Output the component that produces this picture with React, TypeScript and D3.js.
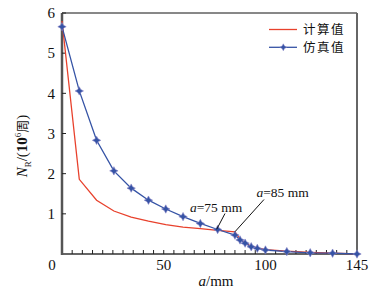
import React from "react";
import * as d3 from "d3";

const aValues = [0, 8.5, 17, 25.5, 34, 42.5, 51, 59.5, 68, 76.5, 85, 87.5, 90, 93, 96, 100, 110.5, 122, 133, 145];
const simValues = [5.66, 4.06, 2.83, 2.07, 1.64, 1.34, 1.12, 0.93, 0.76, 0.61, 0.47, 0.35, 0.27, 0.18, 0.14, 0.1, 0.06, 0.03, 0.02, 0.0];
const calcValues = [5.8, 1.86, 1.34, 1.07, 0.92, 0.82, 0.73, 0.67, 0.63, 0.59, 0.55, 0.37, 0.28, 0.19, 0.15, 0.11, 0.07, 0.04, 0.02, 0.005];
const xTicks = [50, 100, 145];
const yTicks = [1, 2, 3, 4, 5, 6];
const xMinor = d3.range(5, 145, 5);
const legendLabels = ["计算值", "仿真值"];

const W = 370, H = 291;
const RED = "#e8412c";
const BLUE = "#3553a5";
const SERIF = "'Liberation Serif', 'DejaVu Serif', serif";
const CJK = "'Noto Sans CJK SC', sans-serif";

function star(cx: number, cy: number, r: number) {
  const k = r * 0.35;
  return `M${cx},${cy - r}L${cx + k},${cy - k}L${cx + r},${cy}L${cx + k},${cy + k}L${cx},${cy + r}L${cx - k},${cy + k}L${cx - r},${cy}L${cx - k},${cy - k}Z`;
}

export default function App() {
  const x = d3.scaleLinear().domain([0, 145]).range([62, 357]);
  const y = d3.scaleLinear().domain([0, 6]).range([254, 13]);
  const line = d3.line<number>().x((_, i) => x(aValues[i])).y((d) => y(d));

  return (
    <div style={{ position: "fixed", left: 0, top: 0 }}>
      <svg width={W} height={H} style={{ display: "block", background: "#fff" }}>
        {/* frame */}
        <line x1={x(0)} x2={x(145)} y1={y(6)} y2={y(6)} stroke="#111" strokeWidth={1} />
        <line x1={x(145)} x2={x(145)} y1={y(6)} y2={y(0)} stroke="#666" strokeWidth={2} />
        <line x1={x(0)} x2={x(145)} y1={y(0)} y2={y(0)} stroke="#333" strokeWidth={1.5} />
        <line x1={x(0)} x2={x(0)} y1={y(6)} y2={y(0) + 1} stroke="#555" strokeWidth={2.5} />
        {/* minor x ticks */}
        {xMinor.map((t) => (
          <line key={"m" + t} x1={x(t)} x2={x(t)} y1={y(0)} y2={y(0) - 4} stroke="#222" strokeWidth={1} />
        ))}
        {/* y ticks */}
        {yTicks.map((t) => (
          <g key={"y" + t}>
            <line x1={x(0)} x2={x(0) + 4} y1={y(t)} y2={y(t)} stroke="#222" strokeWidth={1} />
            <text x={55} y={y(t)} dy="0.35em" textAnchor="end" fontFamily={SERIF} fontSize={15} fill="#111">{t}</text>
          </g>
        ))}
        {/* x tick labels */}
        <text x={52} y={265} dy="0.35em" textAnchor="middle" fontFamily={SERIF} fontSize={15} fill="#111">0</text>
        {xTicks.map((t) => (
          <text key={"x" + t} x={x(t)} y={265} dy="0.35em" textAnchor="middle" fontFamily={SERIF} fontSize={15} fill="#111">{t}</text>
        ))}
        {/* axis titles */}
        <text x={216} y={281} dy="0.35em" textAnchor="middle" fontFamily={SERIF} fontSize={15} fill="#111">
          <tspan fontStyle="italic">a</tspan>/mm
        </text>
        <text transform="translate(27,146) rotate(-90)" textAnchor="middle" fontFamily={SERIF} fontSize={15} fill="#111">
          <tspan fontStyle="italic">N</tspan>
          <tspan fontSize={9} dy={4}>R</tspan>
          <tspan dy={-4}>/(</tspan>
          <tspan fontWeight="bold">10</tspan>
          <tspan fontSize={9} dy={-6}>6</tspan>
          <tspan dy={6} fontFamily={CJK} fontSize={13}>周</tspan>
          <tspan>)</tspan>
        </text>
        {/* series */}
        <path d={line(calcValues) || ""} fill="none" stroke={RED} strokeWidth={1.3} />
        <path d={line(simValues) || ""} fill="none" stroke={BLUE} strokeWidth={1.3} />
        {simValues.map((v, i) => (
          <path key={"p" + i} d={star(x(aValues[i]), y(v), 4.2)} fill={BLUE} stroke="#8a86c8" strokeWidth={0.6} />
        ))}
        {/* annotations */}
        <line x1={225} y1={213.5} x2={216.7} y2={229.3} stroke="#111" strokeWidth={1} />
        <line x1={264} y1={199.5} x2={235} y2={231.7} stroke="#111" strokeWidth={1} />
        <text x={190} y={207} dy="0.35em" fontFamily={SERIF} fontSize={13.5} fill="#111">
          <tspan fontStyle="italic">a</tspan>=75 mm
        </text>
        <text x={256.5} y={192.5} dy="0.35em" fontFamily={SERIF} fontSize={13.5} fill="#111">
          <tspan fontStyle="italic">a</tspan>=85 mm
        </text>
        {/* legend */}
        <line x1={269} x2={297} y1={29.5} y2={29.5} stroke={RED} strokeWidth={1.3} />
        <line x1={269} x2={297} y1={47.3} y2={47.3} stroke={BLUE} strokeWidth={1.3} />
        <path d={star(283.3, 47.3, 3.5)} fill={BLUE} stroke="#8a86c8" strokeWidth={0.5} />
        <text x={303} y={29.5} dy="0.35em" fontFamily={CJK} fontSize={12.5} fill="#111" letterSpacing={1.5}>{legendLabels[0]}</text>
        <text x={303} y={47.8} dy="0.35em" fontFamily={CJK} fontSize={12.5} fill="#111" letterSpacing={1.5}>{legendLabels[1]}</text>
      </svg>
    </div>
  );
}
